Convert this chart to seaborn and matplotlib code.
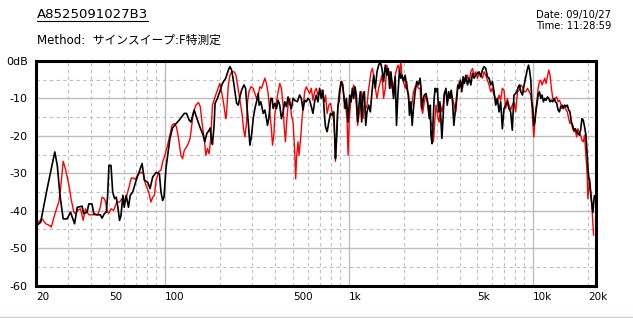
import matplotlib
matplotlib.use("Agg")
import matplotlib.pyplot as plt
import seaborn as sns
import pandas as pd
from matplotlib.lines import Line2D

sns.set_theme(style="white")
plt.rcParams['font.family'] = ['DejaVu Sans', 'Noto Sans CJK JP']

# ---------------- data ----------------
black_freq = [20, 21.2, 23.0, 25.3, 26.1, 27.0, 28.1, 29.5, 30.8, 32.4, 33.5, 35.6, 36.3, 37.9, 38.7, 40.3,
              41.2, 42.9, 44.7, 45.7, 47.0, 48.2, 49.0, 49.8, 51.1, 52.2, 53.5, 54.6, 55.7, 56.9, 57.9, 59.3,
              60.3, 61.8, 63.6, 65.0,
              67.1, 70.0, 75.4, 77.6, 80.9, 83.3, 86.1, 89.8, 93.6, 95.5, 97.5, 99.2, 101.6, 105.0, 106.8,
              110.4, 114.2, 120.0, 127.8, 131.5, 135.9, 138.8, 144.7, 147.7, 155.3, 161.8, 165.2, 169.4, 174.4,
              176.6, 179.5, 181.8, 185.6, 187.9, 193.5, 199.2, 205.9, 214.6, 221.9,
              226.3, 231.1, 236, 240.9, 246, 251.1, 256.4, 261.7, 269.6, 275.2, 278.7, 284.5, 290.5, 296.6,
              302.8, 309.2, 315.6, 322.2, 326.2, 333, 343, 350.1, 357.4, 361.9, 367.8, 377.3, 383.7, 388.6,
              396.7, 405, 413.5, 422, 430.9, 440, 449.2, 458.6, 468.2, 478, 488.2, 498.4, 508.8, 526, 541,
              552.9, 564.5, 576.3, 588.4, 600.7, 613.3, 626.3, 639.3, 652.7, 666.4, 680.3, 694.6, 709.3, 724,
              739.3,
              748, 763.5, 779.6, 795.8, 812.6, 829.5, 847, 857.6, 872.6, 890.6, 909, 924.6, 940, 960, 972,
              992, 1013, 1030, 1047, 1064, 1082, 1100, 1118, 1137, 1156, 1176, 1196, 1216, 1237, 1257, 1284,
              1310, 1338, 1366, 1395, 1424, 1454, 1484, 1515, 1547, 1580, 1613, 1640, 1668, 1695, 1723, 1752,
              1789, 1818, 1849, 1887, 1919, 1951, 1985, 2026, 2069, 2112, 2138, 2175, 2212, 2247, 2295, 2343,
              2392, 2442,
              2471, 2500, 2545, 2575, 2628, 2684, 2740, 2775, 2797, 2836, 2874, 2912, 2949, 2996, 3035, 3075,
              3128, 3165, 3208, 3260, 3300, 3374, 3430, 3488, 3546, 3605, 3664, 3725, 3787, 3850, 3914, 3982,
              4046, 4114, 4182, 4252, 4328, 4418, 4512, 4606, 4702, 4800, 4902, 5004, 5108, 5217, 5327, 5438,
              5552, 5668, 5786, 5908, 6033, 6157, 6288, 6419, 6555, 6692, 6834, 6976, 7122, 7271, 7423, 7580,
              7739, 7900, 8067,
              8193, 8339, 8467, 8610, 8792, 8900, 9050, 9200, 9362, 9480, 9600, 9756, 9880, 10000, 10130,
              10260, 10390, 10520, 10690, 10870, 11048, 11230, 11420, 11610, 11800, 12004, 12210, 12410,
              12620, 12840, 13047, 13270, 13490, 13720, 13950, 14178, 14420, 14660, 14900, 15150, 15404,
              15660, 15920, 16190, 16460, 16739, 17020, 17300, 17590, 17890, 18184, 18490, 18800, 19110,
              19440, 19760, 20000, 20400, 20800, 21200, 21600]
black_db = [-44.1, -43.1, -34.1, -24.3, -27.9, -35.9, -42.2, -42.2, -40.4, -43.5, -39.1, -38.8, -40.8, -40.4,
            -38.2, -38.2, -40.8, -41.1, -41.1, -42.0, -40.8, -40.4, -35.9, -27.9, -27.9, -35.0, -36.8, -36.4,
            -39.1, -42.6, -41.3, -35.9, -39.1, -35.9, -39.1, -35.9,
            -35.0, -31.9, -27.4, -31.9, -32.4, -34.1, -31.0, -29.8, -30.1, -35.0, -37.3, -36.4, -28.8, -23.4,
            -20.7, -17.9, -17.0, -15.8, -14.0, -14.0, -15.8, -16.3, -13.1, -14.5, -17.6, -19.8, -21.6, -19.4,
            -18.5, -17.9, -20.7, -22.3, -17.2, -11.3, -10.0, -8.2, -6.0, -4.6, -2.4,
            -1.5, -2.4, -5.1, -8.2, -11.3, -11.8, -9.6, -7.8, -6.4, -7.3, -10.9, -16.3, -22.5, -19.8,
            -15.4, -12.7, -10.9, -8.7, -11.8, -10.9, -14.0, -13.1, -15.4, -17.2, -15.4, -10.0, -10.0, -12.7,
            -11.3, -12.7, -10.5, -11.8, -15.4, -13.6, -10.9, -12.2, -9.6, -11.3, -12.7, -10.0, -10.5, -10.9,
            -9.1, -10.0, -13.1, -10.5, -10.9, -10.0, -10.5, -12.2, -14.0, -10.9, -9.1, -10.9, -7.3, -10.0,
            -7.8, -14.9,
            -17.6, -18.9, -16.3, -14.0, -14.5, -13.6, -26.1, -21.6, -12.7, -8.2, -5.5, -6.4, -9.1, -12.7,
            -10.0, -16.3, -9.1, -10.9, -7.3, -10.0, -6.9, -9.1, -16.3, -11.8, -8.2, -16.3, -9.1, -8.2, -17.2,
            -13.6, -11.8, -13.6, -8.2, -3.8, -7.3, -2.9, -1.1, -0.2, -2.0, -5.5, -1.1, -3.8, -2.0, -7.3, -2.9,
            -6.4, -10.0, -4.2, -17.2, -9.1, -2.4, -4.6, -3.8, -5.5, -3.8, -7.3, -9.1, -14.5, -10.9, -17.2,
            -12.7, -8.2, -5.5, -6.4, -4.6,
            -7.3, -12.7, -10.0, -9.1, -8.7, -10.9, -15.4, -11.8, -19.8, -22.1, -16.3, -10.0, -7.3, -8.2,
            -7.3, -13.6, -10.9, -15.4, -20.7, -14.5, -9.1, -7.3, -11.8, -8.2, -10.0, -7.8, -10.9, -17.2,
            -13.6, -10.0, -6.4, -7.3, -5.1, -8.2, -4.2, -6.0, -3.8, -6.4, -4.6, -6.4, -3.3, -4.6, -3.8, -3.3,
            -2.9, -4.2, -2.4, -1.5, -2.0, -4.2, -4.6, -6.4, -5.5, -8.2, -11.8, -10.0, -13.6, -10.9, -18.1,
            -12.7, -11.8, -10.9, -12.7, -13.6, -18.5, -9.1, -8.7,
            -8.2, -6.9, -6.4, -8.2, -9.1, -7.3, -5.5, -3.8, -2.0, -1.1, -2.4, -5.1, -10.9, -12.7, -17.2,
            -16.3, -13.6, -11.8, -9.1, -8.2, -10.0, -9.1, -10.9, -10.0, -10.5, -9.6, -10.0, -10.9, -10.5,
            -10.9, -10.0, -10.9, -11.3, -13.1, -13.6, -12.2, -11.8, -12.7, -11.8, -12.2, -11.8, -13.1,
            -13.6, -16.3, -17.2, -18.5, -18.1, -18.9, -19.4, -19.8, -18.5, -15.4, -15.8, -17.6, -19.8,
            -25.2, -29.7, -33.2, -37.0, -40.5, -36.0]

red_freq = [20, 21.6, 22.6, 24.0, 24.2, 25.5, 26.6, 27.2, 28.1, 28.9, 30.2, 31.0, 32.1, 32.8, 33.7, 34.9,
            36.1, 37.1, 37.9, 38.7, 41.2, 43.3, 44.7, 45.7, 47.0, 47.8, 48.6, 49.6, 51.1, 52.8, 55.0, 56.9,
            58.6, 60.3, 62.3, 64.4, 65.8, 67.7,
            69.4, 71.3, 74.4, 76.6, 78.6, 81.9, 84.2, 86.1, 88.0, 89.8, 93.0, 95.5, 97.5, 100.8, 103.7,
            106.8, 109.5, 112.7, 116.0, 119.0, 122.5, 125.1, 127.8, 133.1, 137.5, 140.0, 143.0, 147.7, 152.8,
            156.1, 159.4, 164.5, 167.3, 170.8, 174.4, 178.0, 181.8, 187.9, 193.5, 199.2, 203.8, 209.8, 214.6,
            216.6,
            221.7, 226.3, 231.1, 239, 244, 249, 254, 259, 264, 268, 273, 278.7, 282, 287, 294, 302.8, 309.2,
            315.6, 322.2, 329, 335.8, 343, 350.1, 357.4, 364.9, 372.6, 380.5, 385.4, 392, 396.7, 405, 413.5,
            422, 430.9, 440, 445.5, 453, 460, 468.2, 478, 488.2, 498.4, 508.8, 515, 521.6, 530.3, 537, 548,
            557.6, 566.8, 576.3, 588.4, 600.7, 613.3, 626.3, 639.3, 652.7, 666.4, 680.3, 694.6, 709.3, 724,
            739.3,
            748, 763.5, 779.6, 795.8, 812.6, 829.5, 840, 847, 857.6, 872.6, 887, 901.9, 917, 932, 948, 964,
            980, 992, 1005, 1021, 1042, 1064, 1082, 1100, 1118, 1137, 1156, 1176, 1196, 1216, 1237, 1257,
            1278, 1300, 1322, 1344, 1366, 1395, 1424, 1454, 1484, 1515, 1547, 1580, 1613, 1640, 1668, 1695,
            1723, 1752, 1789, 1826, 1856, 1887, 1919, 1951, 1985, 2026, 2069, 2112, 2156, 2201, 2247, 2295,
            2343, 2392, 2442,
            2471, 2522, 2575, 2628, 2684, 2740, 2797, 2856, 2887, 2924, 2979, 3023, 3062, 3104, 3155, 3208,
            3260, 3313, 3374, 3444, 3515, 3590, 3664, 3740, 3820, 3898, 3982, 4064, 4152, 4239, 4328, 4418,
            4512, 4606, 4702, 4800, 4902, 5004, 5108, 5217, 5327, 5438, 5552, 5668, 5786, 5908, 6033, 6157,
            6288, 6419, 6555, 6692, 6834, 6976, 7122, 7271, 7423, 7580, 7739, 7900, 8067,
            8260, 8439, 8610, 8792, 8975, 9166, 9362, 9560, 9756, 9880, 10000, 10130, 10260, 10390, 10520,
            10690, 10870, 11048, 11230, 11420, 11610, 11800, 12004, 12210, 12410, 12620, 12840, 13047,
            13270, 13490, 13720, 13950, 14178, 14420, 14660, 14900, 15150, 15404, 15660, 15920, 16190,
            16460, 16739, 17020, 17300, 17590, 17890, 18184, 18490, 18800, 19110, 19440, 19760, 19920,
            20160, 20410, 20600, 21000, 21400]
red_db = [-43.5, -42.2, -43.5, -44.1, -44.4, -40.4, -37.7, -34.1, -26.8, -28.8, -33.2, -36.8, -40.4, -40.8,
          -39.9, -39.5, -42.6, -39.5, -40.4, -41.1, -41.1, -41.1, -39.1, -36.4, -36.8, -37.7, -39.9, -40.8,
          -39.5, -39.9, -37.7, -37.7, -36.8, -37.7, -35.9, -33.2, -31.3, -31.3,
          -31.6, -30.4, -29.7, -30.1, -32.8, -35.0, -37.7, -36.4, -35.9, -31.9, -29.5, -29.2, -27.0, -24.8,
          -22.5, -19.8, -17.2, -16.7, -17.6, -20.7, -25.2, -26.1, -23.9, -22.5, -20.7, -17.6, -14.0, -11.8,
          -11.1, -12.2, -16.3, -21.2, -25.2, -23.4, -24.8, -20.7, -11.8, -9.6, -7.8, -6.0, -8.2, -11.8,
          -15.4, -14.5,
          -6.4, -3.8, -2.9, -2.9, -3.8, -6.4, -9.1, -11.8, -14.5, -18.1, -20.3, -16.3, -10.9, -8.2, -6.9,
          -7.3, -8.7, -10.0, -9.1, -6.9, -7.3, -6.0, -4.6, -6.0, -8.7, -13.6, -18.5, -22.5, -19.8, -14.5,
          -10.9, -8.2, -6.0, -7.3, -11.8, -17.2, -21.6, -16.3, -11.8, -10.0, -14.5, -16.3, -24.3, -31.5,
          -25.2, -21.6, -25.2, -20.7, -15.4, -11.8, -8.2, -6.9, -7.8, -8.7, -7.3, -10.5, -8.2, -7.3, -9.1,
          -8.2, -7.8, -9.1, -10.9,
          -9.1, -14.0, -11.8, -11.3, -13.6, -15.8, -19.8, -26.8, -20.7, -11.8, -10.9, -7.3, -5.4, -6.4,
          -12.7, -11.8, -16.3, -25.2, -16.3, -11.8, -8.7, -6.4, -8.2, -11.8, -17.2, -14.5, -11.8, -8.2,
          -15.4, -11.8, -12.7, -11.8, -8.2, -5.5, -2.9, -2.0, -3.8, -7.3, -10.0, -7.3, -5.5, -3.8, -10.0,
          -7.3, -1.1, -3.8, -2.9, -7.3, -5.5, -7.3, -3.8, -2.0, -1.1, -2.9, -0.2, -4.6, -5.5, -7.3, -5.5,
          -10.0, -12.7, -11.8, -8.2, -6.9, -6.4, -7.3, -7.3,
          -12.2, -14.0, -10.9, -9.1, -11.8, -14.5, -16.3, -18.1, -21.6, -17.2, -11.8, -13.6, -15.4, -16.3,
          -11.8, -13.6, -11.8, -8.2, -8.2, -10.9, -9.1, -8.2, -10.0, -11.8, -13.6, -8.2, -5.5, -6.4, -7.3,
          -4.6, -5.5, -3.8, -5.5, -2.9, -2.0, -3.8, -2.9, -4.6, -3.3, -3.8, -4.6, -2.9, -3.8, -5.1, -6.4,
          -8.2, -7.3, -9.1, -10.0, -10.9, -9.1, -10.5, -7.3, -7.8, -12.7, -10.0, -11.8, -13.1, -11.8,
          -10.9, -13.6,
          -8.2, -7.8, -6.4, -6.9, -8.2, -8.2, -7.3, -8.2, -9.1, -11.8, -16.3, -20.3, -16.3, -12.7, -10.9,
          -7.3, -5.5, -5.1, -6.4, -5.5, -4.6, -6.0, -4.2, -2.4, -3.8, -7.3, -10.0, -10.5, -10.0, -9.6,
          -10.9, -10.5, -11.3, -12.7, -12.2, -11.8, -13.1, -13.6, -15.4, -16.7, -16.3, -18.1, -18.9,
          -18.5, -20.3, -18.1, -19.4, -19.8, -21.2, -21.6, -19.8, -25.2, -30.6, -36.8, -34.1, -31.5,
          -34.1, -40.0, -46.6]

x_ticks = [20, 50, 100, 500, 1000, 5000, 10000, 20000]
x_tick_labels = ["20", "50", "100", "500", "1k", "5k", "10k", "20k"]
y_ticks = [0, -10, -20, -30, -40, -50, -60]
y_tick_labels = ["0dB", "-10", "-20", "-30", "-40", "-50", "-60"]

title_text = "A8525091027B3"
method_text = "Method:  サインスイープ:F特測定"
date_text = "Date: 09/10/27"
time_text = "Time: 11:28:59"

# ---------------- figure ----------------
W, H = 633, 318
fig = plt.figure(figsize=(W / 100, H / 100), dpi=100)
fig.patch.set_facecolor("white")
ax = fig.add_axes([36 / W, 1 - 285.5 / H, 560 / W, 224.5 / H])
ax.set_facecolor("white")

ax.set_xscale("log")
ax.set_xlim(20, 22050)
ax.set_ylim(-60, 0)

# grid
grid_col = "#bdbdbd"
for dec in (10, 100, 1000, 10000):
    for m in range(1, 10):
        f = dec * m
        if f <= 20 or f > 20000:
            continue
        solid = m == 1
        ax.axvline(f, color=grid_col, lw=1.0 if solid else 0.8,
                   ls="-" if solid else (0, (3, 3)), zorder=0)
for v in range(-55, 0, 5):
    solid = v % 10 == 0
    ax.axhline(v, color=grid_col, lw=1.0 if solid else 0.8,
               ls="-" if solid else (0, (3, 3)), zorder=0)

df_red = pd.DataFrame({"freq": red_freq, "db": red_db})
df_black = pd.DataFrame({"freq": black_freq, "db": black_db})
sns.lineplot(data=df_red, x="freq", y="db", color="#ff0000", lw=1.0, ax=ax,
             estimator=None, sort=False, zorder=3)
sns.lineplot(data=df_black, x="freq", y="db", color="#000000", lw=1.2, ax=ax,
             estimator=None, sort=False, zorder=4)

ax.set_xlabel("")
ax.set_ylabel("")
ax.set_xticks(x_ticks)
ax.set_xticklabels(x_tick_labels)
ax.xaxis.set_minor_locator(matplotlib.ticker.NullLocator())
ax.set_yticks(y_ticks)
ax.set_yticklabels(y_tick_labels)
ax.tick_params(axis="both", which="major", direction="out", length=4, width=1,
               color="black", labelcolor="black")
ax.tick_params(axis="y", pad=2, labelsize=8)
ax.tick_params(axis="x", pad=2, labelsize=7.5, length=3)
for lab in ax.get_xticklabels():
    lab.set_ha("left")
ax.grid(False)
for s in ax.spines.values():
    s.set_visible(True)
    s.set_color("black")
    s.set_linewidth(2.2)
    s.set_zorder(5)

# header texts
t = fig.text(37 / W, 1 - 18.5 / H, title_text, fontsize=9.5, va="baseline", ha="left", color="black")
fig.text(37 / W, 1 - 44 / H, method_text, fontsize=8.5, va="baseline", ha="left", color="black")
fig.text(536 / W, 1 - 18.3 / H, date_text, fontsize=7.2, va="baseline", ha="left", color="black")
fig.text(536 / W, 1 - 29.3 / H, time_text, fontsize=7.2, va="baseline", ha="left", color="black")

fig.canvas.draw()
bb = t.get_window_extent()
fig.add_artist(Line2D([bb.x0 / W, bb.x1 / W], [1 - 20.5 / H, 1 - 20.5 / H],
                      transform=fig.transFigure, color="black", lw=0.8))
fig.add_artist(Line2D([0, 1], [1 - 316.5 / H, 1 - 316.5 / H],
                      transform=fig.transFigure, color="#d4d0c8", lw=1.0))

fig.savefig("out.png", dpi=100, facecolor="white")
